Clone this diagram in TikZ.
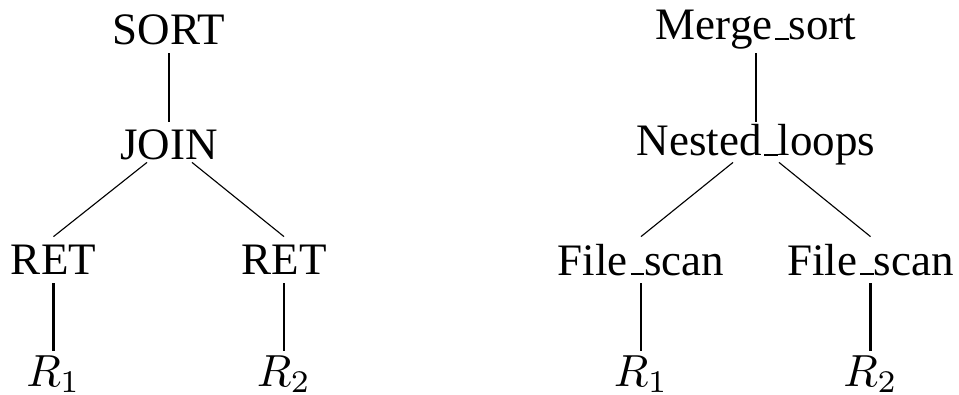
\documentclass[tikz,border=0pt]{standalone}
\usepackage{fontspec}
\setmainfont{Liberation Serif}
\usetikzlibrary{calc}
% low underscore, as in the old OT1 \_
\newcommand{\uscore}{\leavevmode\kern.06em\vbox{\hrule width.3em height.5pt}}

\begin{document}
\begin{tikzpicture}[text=black, x=0.2222pt, y=0.2222pt,
  op/.style={inner sep=0pt, minimum height=10pt},
  stem/.style={line width=0.5pt},
  branch/.style={line width=0.25pt}]
\useasboundingbox (0,0) rectangle (959,-394);

% logical plan
\path (169,-30) node (sort) [op] {SORT};
\path (169,-145) node (join) [op] {JOIN};
\path (53.5,-260) node (retl) [op] {RET};
\path (284,-260) node (retr) [op] {RET};
\path (53.5,-374) node (rell) [op] {$R_1$};
\path (284,-374) node (relr) [op] {$R_2$};

\draw [stem] (sort.south) -- (join.north);
\draw [branch] ($(join.south)+(-22,6)$) -- (retl.north);
\draw [branch] ($(join.south)+(23,6)$) -- (retr.north);
\draw [stem] (retl.south) -- (rell.north);
\draw [stem] (retr.south) -- (relr.north);

% physical plan
\path (756,-30) node (msort) [op] {Merge\uscore sort};
\path (756,-145) node (nloops) [op] {Nested\uscore loops};
\path (641,-260) node (fscanl) [op] {File\uscore scan};
\path (870.5,-260) node (fscanr) [op] {File\uscore scan};
\path (641,-374) node (pell) [op] {$R_1$};
\path (870.5,-374) node (pelr) [op] {$R_2$};

\draw [stem] (msort.south) -- (nloops.north);
\draw [branch] ($(nloops.south)+(-23,6)$) -- (fscanl.north);
\draw [branch] ($(nloops.south)+(23,6)$) -- (fscanr.north);
\draw [stem] (fscanl.south) -- (pell.north);
\draw [stem] (fscanr.south) -- (pelr.north);

\end{tikzpicture}
\end{document}
